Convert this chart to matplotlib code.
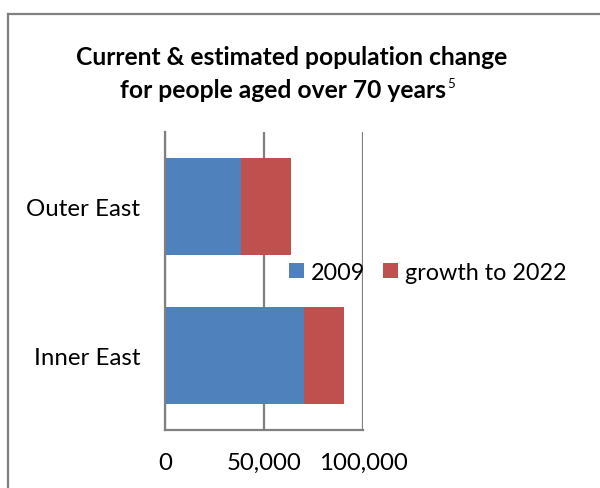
import matplotlib.pyplot as plt
from matplotlib.lines import Line2D

plt.rcParams['font.family'] = ['Lato', 'DejaVu Sans']

regions = ["Inner East", "Outer East"]
pop_2009 = [70250, 38300]
growth_2022 = [20000, 25100]
ticks = [0, 50000, 100000]
tick_labels = ["0", "50,000", "100,000"]

blue = "#4F81BD"
red = "#C0504D"
grey = "#808080"

fig = plt.figure(figsize=(6, 4.89), dpi=100)
ax = fig.add_axes([0.275, 0.1186, 0.33, 0.6094])

b1 = ax.barh(regions, pop_2009, height=0.645, color=blue, label="2009", zorder=2)
b2 = ax.barh(regions, growth_2022, left=pop_2009, height=0.645, color=red,
             label="growth to 2022", zorder=2)

ax.set_xlim(0, 100000)
ax.set_ylim(-0.5, 1.5)
ax.set_xticks(ticks)
ax.set_xticklabels(tick_labels)
ax.tick_params(axis='both', length=0, labelsize=17.3)
ax.tick_params(axis='x', pad=16)
ax.tick_params(axis='y', pad=18)
ax.xaxis.grid(True, color=grey, linewidth=1.6, zorder=1)
for s in ['top', 'right']:
    ax.spines[s].set_visible(False)
for s in ['left', 'bottom']:
    ax.spines[s].set_color(grey)
    ax.spines[s].set_linewidth(1.6)

fig.legend(handles=[b1, b2], loc='center left', bbox_to_anchor=(289 / 600, 1 - 273 / 489),
           ncol=2, frameon=False, fontsize=16.8, borderpad=0, borderaxespad=0,
           handlelength=0.64, handleheight=0.64, handletextpad=0.3,
           columnspacing=0.75)

fig.text(291.5 / 600, 1 - 65 / 489, "Current & estimated population change",
         ha='center', va='baseline', fontsize=17.7, fontweight='bold')
t2 = fig.text(283 / 600, 1 - 98 / 489, "for people aged over 70 years",
              ha='center', va='baseline', fontsize=17.7, fontweight='bold')
fig.canvas.draw()
bb = t2.get_window_extent(fig.canvas.get_renderer())
fig.text((bb.x1 + 1) / fig.bbox.width, 1 - 88 / 489, "5", ha='left',
         va='baseline', fontsize=9.5)

# chart border (only top and left edges fall inside the picture)
fig.add_artist(Line2D([8 / 600, 1], [1 - 14.5 / 489, 1 - 14.5 / 489],
                      color=grey, linewidth=1.6, transform=fig.transFigure))
fig.add_artist(Line2D([8 / 600, 8 / 600], [0, 1 - 14.5 / 489],
                      color=grey, linewidth=1.6, transform=fig.transFigure))

fig.savefig("out.png", dpi=100)
